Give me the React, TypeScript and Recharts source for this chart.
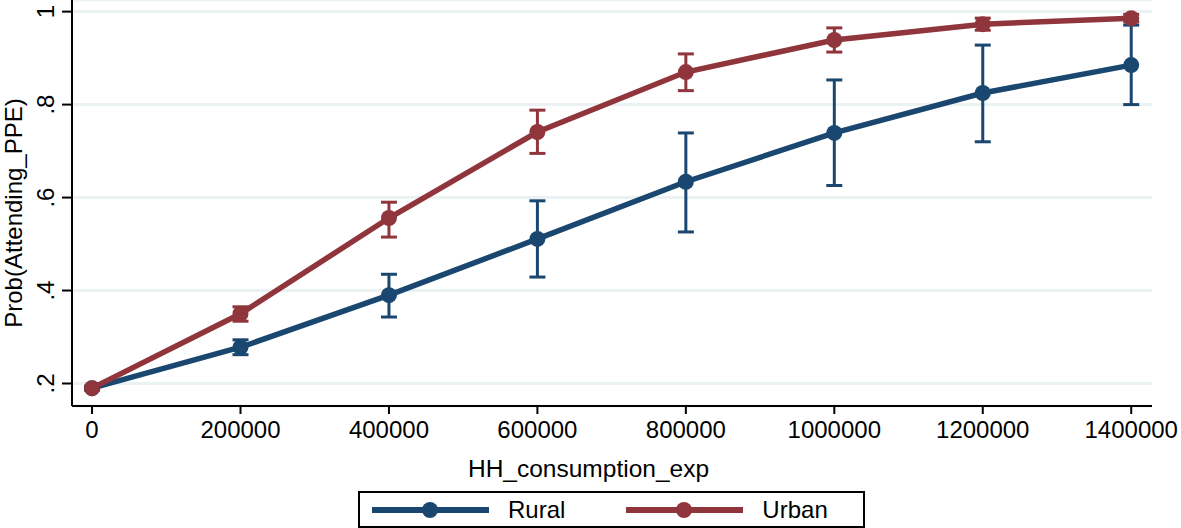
import { LineChart, Line, XAxis, YAxis, CartesianGrid, ErrorBar, Legend, Label } from "recharts";

const expenditure = [0, 200000, 400000, 600000, 800000, 1000000, 1200000, 1400000];

const ruralProb = [0.19, 0.278, 0.39, 0.511, 0.634, 0.739, 0.825, 0.885];
const ruralLow = [0.186, 0.262, 0.343, 0.429, 0.526, 0.626, 0.72, 0.8];
const ruralHigh = [0.194, 0.294, 0.435, 0.593, 0.739, 0.853, 0.928, 0.971];

const urbanProb = [0.19, 0.35, 0.556, 0.741, 0.87, 0.939, 0.973, 0.986];
const urbanLow = [0.186, 0.334, 0.515, 0.695, 0.83, 0.913, 0.96, 0.978];
const urbanHigh = [0.194, 0.365, 0.59, 0.788, 0.909, 0.965, 0.986, 0.994];

const xTicks = [0, 200000, 400000, 600000, 800000, 1000000, 1200000, 1400000];
const yTicks = [0.2, 0.4, 0.6, 0.8, 1];
const yTickLabels = [".2", ".4", ".6", ".8", "1"];

const NAVY = "#1a476f";
const MAROON = "#90353b";
const FONT = "'Liberation Sans', Arial, Helvetica, sans-serif";

const data = expenditure.map((x, i) => ({
  x,
  rural: ruralProb[i],
  ruralErr: [ruralProb[i] - ruralLow[i], ruralHigh[i] - ruralProb[i]],
  urban: urbanProb[i],
  urbanErr: [urbanProb[i] - urbanLow[i], urbanHigh[i] - urbanProb[i]],
}));

const XTick = ({ x, y, payload }: any) => (
  <text x={x} y={y + 22} textAnchor="middle" fontSize={24} fill="#000">
    {payload.value}
  </text>
);

const YTick = ({ x, y, payload }: any) => {
  const idx = yTicks.indexOf(payload.value);
  const tx = x - 6;
  return (
    <text x={tx} y={y} textAnchor="middle" fontSize={24} fill="#000" transform={`rotate(-90, ${tx}, ${y})`}>
      {idx >= 0 ? yTickLabels[idx] : payload.value}
    </text>
  );
};

// stata centres the x title on the whole graph, not the plot region
const XTitle = ({ viewBox }: any) => (
  <text x={1181 / 2 - 2} y={viewBox.y + 71} textAnchor="middle" fontSize={24.5} fill="#000">
    HH_consumption_exp
  </text>
);

const YTitle = ({ viewBox }: any) => {
  const cx = 22;
  const cy = viewBox.y + viewBox.height / 2 + 10;
  return (
    <text x={cx} y={cy} textAnchor="middle" fontSize={24} fill="#000" transform={`rotate(-90, ${cx}, ${cy})`}>
      Prob(Attending_PPE)
    </text>
  );
};

const LegendBox = ({ payload }: any) => (
  <div
    style={{
      boxSizing: "border-box",
      width: "100%",
      height: "100%",
      border: "2px solid #000",
      background: "#fff",
      display: "flex",
      alignItems: "center",
      fontFamily: FONT,
      fontSize: 24,
    }}
  >
    {(payload || []).map((entry: any, i: number) => (
      <div key={entry.value} style={{ display: "flex", alignItems: "center", marginLeft: i === 0 ? 12 : 61 }}>
        <svg width={117} height={20}>
          <line x1={0} y1={10} x2={117} y2={10} stroke={entry.color} strokeWidth={6} />
          <circle cx={58} cy={10} r={8} fill={entry.color} />
        </svg>
        <span style={{ marginLeft: 19 }}>{entry.value}</span>
      </div>
    ))}
  </div>
);

export default function App() {
  return (
    <div style={{ position: "absolute", left: 0, top: 0, fontFamily: FONT, background: "#fff" }}>
      <LineChart width={1181} height={528} data={data} margin={{ top: 0, right: 29, bottom: 3, left: 0 }}>
        <CartesianGrid horizontal vertical={false} stroke="#eaf2f3" strokeWidth={3} />
        <XAxis
          dataKey="x"
          type="number"
          domain={[-27000, 1428000]}
          ticks={xTicks}
          allowDataOverflow
          interval={0}
          height={82}
          tickSize={8}
          stroke="#000"
          strokeWidth={2}
          tick={<XTick />}
        >
          <Label content={<XTitle />} />
        </XAxis>
        <YAxis
          type="number"
          domain={[0.1516, 1.025]}
          ticks={yTicks}
          allowDataOverflow
          interval={0}
          width={72}
          tickSize={10}
          stroke="#000"
          strokeWidth={2}
          tick={<YTick />}
        >
          <Label content={<YTitle />} />
        </YAxis>
        <Legend
          content={<LegendBox />}
          wrapperStyle={{ position: "absolute", left: 358, top: 491, width: 507, height: 37 }}
        />
        <Line
          dataKey="rural"
          name="Rural"
          stroke={NAVY}
          strokeWidth={5.5}
          dot={{ r: 8, fill: NAVY, stroke: NAVY, strokeWidth: 0 }}
          activeDot={false}
          isAnimationActive={false}
        >
          <ErrorBar dataKey="ruralErr" direction="y" width={8} strokeWidth={3} stroke={NAVY} />
        </Line>
        <Line
          dataKey="urban"
          name="Urban"
          stroke={MAROON}
          strokeWidth={5.5}
          dot={{ r: 8, fill: MAROON, stroke: MAROON, strokeWidth: 0 }}
          activeDot={false}
          isAnimationActive={false}
        >
          <ErrorBar dataKey="urbanErr" direction="y" width={8} strokeWidth={3} stroke={MAROON} />
        </Line>
      </LineChart>
    </div>
  );
}
